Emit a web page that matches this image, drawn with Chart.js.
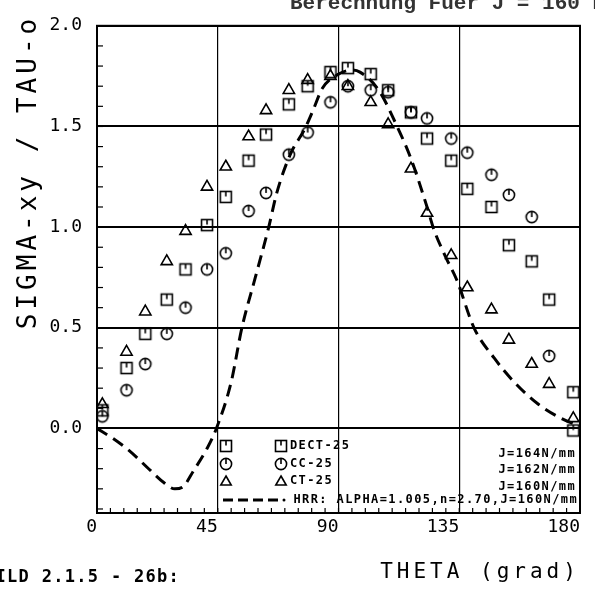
<!DOCTYPE html>
<html>
<head>
<meta charset="utf-8">
<script src="https://cdn.jsdelivr.net/npm/chart.js@4.4.0/dist/chart.umd.min.js"></script>
<style>
  html, body { margin: 0; padding: 0; background: #fff; }
  #wrap { width: 595px; height: 592px; }
</style>
</head>
<body>
<div id="wrap"><canvas id="chart" width="595" height="592"></canvas></div>
<script>
// Stress distribution sigma-xy / tau-0 over theta, three specimens + HRR curve

const thetaTicks = [0, 45, 90, 135, 180]
const sigmaTicks = [0, 0.5, 1.0, 1.5, 2.0]

// DECT-25 (squares)
const dectTheta = [2, 11, 18, 26, 33, 41, 48, 56.5, 63, 71.5, 78.5, 87, 93.5, 102, 108.5, 117, 123, 132, 138, 147, 153.5, 162, 168.5, 177.5, 177.5]
const dectSigma = [0.09, 0.30, 0.47, 0.64, 0.79, 1.01, 1.15, 1.33, 1.46, 1.61, 1.70, 1.77, 1.79, 1.76, 1.68, 1.57, 1.44, 1.33, 1.19, 1.10, 0.91, 0.83, 0.64, 0.18, -0.01]

// CC-25 (circles)
const ccTheta = [2, 11, 18, 26, 33, 41, 48, 56.5, 63, 71.5, 78.5, 87, 93.5, 102, 108.5, 117, 123, 132, 138, 147, 153.5, 162, 168.5]
const ccSigma = [0.06, 0.19, 0.32, 0.47, 0.60, 0.79, 0.87, 1.08, 1.17, 1.36, 1.47, 1.62, 1.70, 1.68, 1.67, 1.57, 1.54, 1.44, 1.37, 1.26, 1.16, 1.05, 0.36]

// CT-25 (triangles)
const ctTheta = [2, 11, 18, 26, 33, 41, 48, 56.5, 63, 71.5, 78.5, 87, 93.5, 102, 108.5, 117, 123, 132, 138, 147, 153.5, 162, 168.5, 177.5]
const ctSigma = [0.12, 0.38, 0.58, 0.83, 0.98, 1.20, 1.30, 1.45, 1.58, 1.68, 1.73, 1.75, 1.70, 1.62, 1.51, 1.29, 1.07, 0.86, 0.70, 0.59, 0.44, 0.32, 0.22, 0.05]

// HRR field (dashed)
const hrrTheta = [0, 6, 12, 20, 25, 29, 32, 36, 41, 44.5, 50, 54, 59, 64, 67, 72, 77.5, 80.5, 84, 90, 95, 98, 105, 111.5, 117, 123, 125.5, 130, 134, 140.5, 148, 155.5, 164.5, 173, 180]
const hrrSigma = [0, -0.05, -0.11, -0.21, -0.27, -0.30, -0.29, -0.21, -0.10, 0, 0.23, 0.5, 0.75, 1.0, 1.17, 1.36, 1.49, 1.58, 1.69, 1.76, 1.78, 1.77, 1.68, 1.51, 1.34, 1.10, 0.99, 0.85, 0.74, 0.5, 0.35, 0.23, 0.12, 0.05, 0.01]

const toPoints = (xs, ys) => xs.map((x, i) => ({ x, y: ys[i] }))

// plotter-like markers: square / circle with a small stroke from the top
function makeMarker(kind) {
  const c = document.createElement('canvas')
  c.width = 16; c.height = 16
  const g = c.getContext('2d')
  g.strokeStyle = '#000'; g.lineWidth = 1.6
  if (kind === 'square') {
    g.strokeRect(2.5, 2.5, 11, 11)
    g.beginPath(); g.moveTo(8, 3); g.lineTo(8, 7.5); g.stroke()
  } else {
    g.beginPath(); g.arc(8, 8, 5.6, 0, Math.PI * 2); g.stroke()
    g.beginPath(); g.moveTo(8, 2.5); g.lineTo(8, 8); g.stroke()
  }
  return c
}
const squareImg = makeMarker('square')
const circleImg = makeMarker('circle')

function drawTriangle(ctx, x, y, r) {
  ctx.beginPath()
  ctx.moveTo(x, y - r)
  ctx.lineTo(x + r * 0.866, y + r * 0.5)
  ctx.lineTo(x - r * 0.866, y + r * 0.5)
  ctx.closePath()
  ctx.stroke()
}

const decorations = {
  id: 'decorations',
  beforeDatasetsDraw(chart) {
    const { ctx, chartArea: a, scales: { x, y } } = chart
    ctx.save()
    ctx.strokeStyle = '#000'
    // frame
    ctx.lineWidth = 2
    ctx.strokeRect(a.left, a.top, a.right - a.left, a.bottom - a.top)
    // minor ticks
    ctx.lineWidth = 1.2
    for (let v = -0.4; v < 2.0; v += 0.1) {
      const py = y.getPixelForValue(v)
      ctx.beginPath(); ctx.moveTo(a.left, py); ctx.lineTo(a.left + 6, py); ctx.stroke()
    }
    for (let t = 5; t < 180; t += 5) {
      const px = x.getPixelForValue(t)
      ctx.beginPath(); ctx.moveTo(px, a.bottom); ctx.lineTo(px, a.bottom - 5); ctx.stroke()
    }
    ctx.restore()
  },
  afterDraw(chart) {
    const { ctx } = chart
    ctx.save()
    ctx.fillStyle = '#000'
    ctx.strokeStyle = '#000'

    // in-plot legend
    const rows = [446, 464, 481]
    ctx.drawImage(squareImg, 226 - 8, rows[0] - 8)
    ctx.drawImage(circleImg, 226 - 8, rows[1] - 8)
    ctx.drawImage(squareImg, 281 - 8, rows[0] - 8)
    ctx.drawImage(circleImg, 281 - 8, rows[1] - 8)
    ctx.lineWidth = 1.6
    drawTriangle(ctx, 226, rows[2] + 1, 6)
    drawTriangle(ctx, 281, rows[2] + 1, 6)

    ctx.font = 'bold 12px "DejaVu Sans Mono"'
    ctx.letterSpacing = '1.4px'
    ctx.textBaseline = 'middle'
    ctx.textAlign = 'left'
    ctx.fillText('DECT-25', 290, rows[0])
    ctx.fillText('CC-25', 290, rows[1])
    ctx.fillText('CT-25', 290, rows[2])
    ctx.textAlign = 'right'
    ctx.fillText('J=164N/mm', 576, 454)
    ctx.fillText('J=162N/mm', 576, 470)
    ctx.fillText('J=160N/mm', 576, 487)
    ctx.fillText('HRR: ALPHA=1.005,n=2.70,J=160N/mm', 578, 500)

    ctx.lineWidth = 3
    ctx.setLineDash([10, 5])
    ctx.beginPath(); ctx.moveTo(223, 500); ctx.lineTo(279, 500); ctx.stroke()
    ctx.setLineDash([])
    ctx.beginPath(); ctx.arc(284, 500, 1.5, 0, Math.PI * 2); ctx.fill()

    // axis titles
    ctx.textAlign = 'center'
    ctx.font = '26px "DejaVu Sans Mono"'
    ctx.letterSpacing = '4px'
    ctx.save()
    ctx.translate(29, 172)
    ctx.rotate(-Math.PI / 2)
    ctx.fillText('SIGMA-xy / TAU-o', 0, 0)
    ctx.restore()

    ctx.font = '21px "DejaVu Sans Mono"'
    ctx.letterSpacing = '4px'
    ctx.fillText('THETA (grad)', 480, 573)

    // figure caption and cut-off header
    ctx.textAlign = 'left'
    ctx.font = 'bold 17px "DejaVu Sans Mono"'
    ctx.letterSpacing = '1.3px'
    ctx.fillText('BILD 2.1.5 - 26b:', -16, 578)

    ctx.fillStyle = '#333'
    ctx.font = 'bold 21px "Liberation Mono"'
    ctx.letterSpacing = '0px'
    ctx.textBaseline = 'alphabetic'
    ctx.fillText('Berechnung Fuer J = 160 N/mm', 290, 9)
    ctx.restore()
  }
}

const tickFont = { family: 'DejaVu Sans Mono', size: 18 }

new Chart(document.getElementById('chart'), {
  type: 'scatter',
  data: {
    datasets: [
      {
        label: 'HRR', data: toPoints(hrrTheta, hrrSigma), showLine: true,
        borderColor: '#000', borderWidth: 3, borderDash: [12, 7], pointRadius: 0,
        cubicInterpolationMode: 'monotone', fill: false
      },
      {
        label: 'DECT-25', data: toPoints(dectTheta, dectSigma),
        pointStyle: squareImg, pointRadius: 6
      },
      {
        label: 'CC-25', data: toPoints(ccTheta, ccSigma),
        pointStyle: circleImg, pointRadius: 6
      },
      {
        label: 'CT-25', data: toPoints(ctTheta, ctSigma),
        pointStyle: 'triangle', pointRadius: 6.5, borderColor: '#000', borderWidth: 1.6,
        backgroundColor: 'rgba(0,0,0,0)'
      }
    ]
  },
  options: {
    responsive: false,
    animation: false,
    devicePixelRatio: 1,
    layout: { padding: { top: 17, right: 15, bottom: 0, left: 0 } },
    plugins: { legend: { display: false }, tooltip: { enabled: false } },
    scales: {
      x: {
        type: 'linear', min: 0, max: 180,
        afterFit: (s) => { s.height = 79 },
        afterBuildTicks: (s) => { s.ticks = thetaTicks.map((v) => ({ value: v })) },
        grid: { color: '#000', lineWidth: 1.2, drawTicks: false },
        border: { display: true, color: '#000', width: 2 },
        ticks: { color: '#000', font: tickFont, padding: 4, align: 'end', maxRotation: 0, callback: (v) => String(v) }
      },
      y: {
        type: 'linear', min: -0.42, max: 2.0,
        afterFit: (s) => { s.width = 97 },
        afterBuildTicks: (s) => { s.ticks = sigmaTicks.map((v) => ({ value: v })) },
        grid: { color: '#000', lineWidth: 2, drawTicks: false },
        border: { display: true, color: '#000', width: 2 },
        ticks: { color: '#000', font: tickFont, padding: 15, callback: (v) => Number(v).toFixed(1) }
      }
    }
  },
  plugins: [decorations]
})
</script>
</body>
</html>
